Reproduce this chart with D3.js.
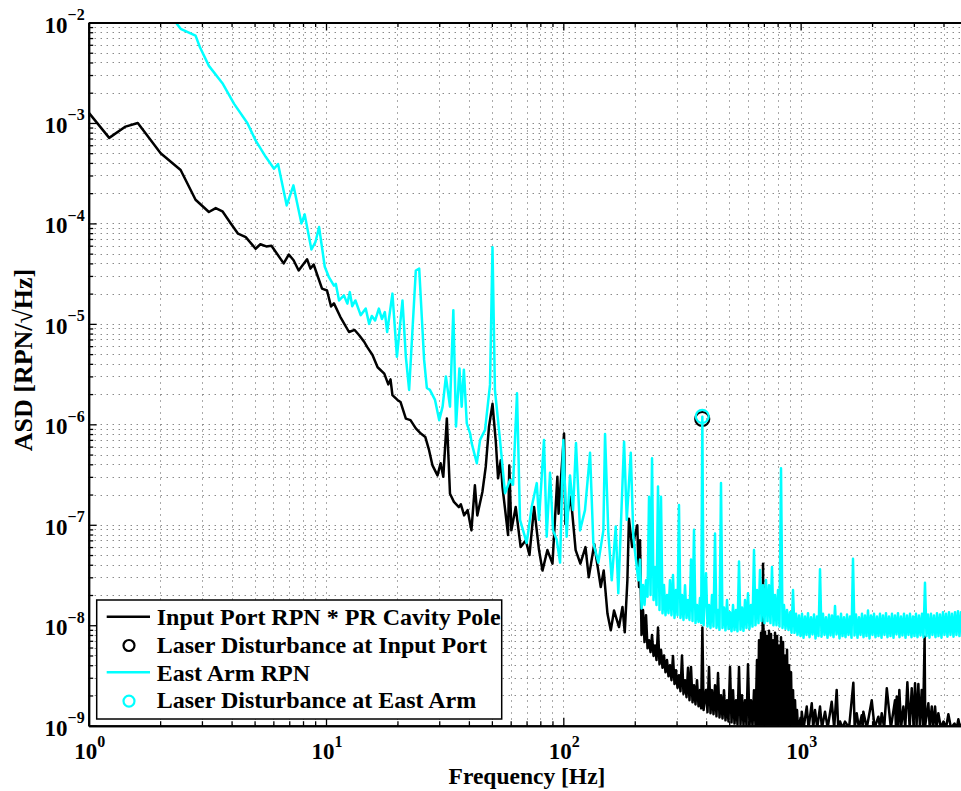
<!DOCTYPE html>
<html>
<head>
<meta charset="utf-8">
<script src="https://cdn.jsdelivr.net/npm/d3@7"></script>
<style>
  body { margin: 0; background: #fff; }
  svg { display: block; }
</style>
</head>
<body>
<svg id="svg"></svg>
<script>
// DATA: [frequency Hz, ASD RPN/rtHz]
const inputPortRPN = [
  [1.0, 1.27e-3], [1.22, 7.1e-4], [1.43, 9.2e-4], [1.61, 1.0e-3], [2.01, 5.0e-4], [2.44, 3.4e-4],
  [2.82, 1.72e-4], [3.21, 1.30e-4], [3.43, 1.42e-4], [3.66, 1.32e-4], [3.97, 1.0e-4], [4.26, 7.9e-5],
  [4.59, 7.3e-5], [5.05, 5.6e-5], [5.29, 6.2e-5], [5.6, 5.9e-5], [5.89, 6.0e-5], [6.63, 4.0e-5],
  [6.97, 4.9e-5], [7.3, 4.3e-5], [7.67, 3.4e-5], [8.32, 4.4e-5], [8.6, 3.55e-5], [8.87, 3.9e-5],
  [9.62, 2.24e-5], [10.1, 2.15e-5], [10.5, 1.49e-5], [10.8, 1.6e-5], [11.5, 1.17e-5], [12.5, 8.3e-6],
  [13.2, 8.7e-6], [13.8, 7.7e-6], [14.5, 6.6e-6], [14.9, 5.9e-6], [15.7, 4.9e-6], [16.5, 3.7e-6],
  [17.6, 3.2e-6], [18.3, 2.5e-6], [18.7, 2.8e-6], [19.05, 1.95e-6], [20.0, 1.75e-6], [20.6, 1.67e-6],
  [21.7, 1.14e-6], [22.7, 1.1e-6], [23.9, 9.1e-7], [25.1, 8.1e-7], [26.2, 7.5e-7], [27.2, 5.5e-7],
  [28.1, 3.9e-7], [29.5, 3.1e-7], [30.4, 4.1e-7], [31.2, 3.0e-7], [32.3, 1.14e-6], [33.3, 2.04e-7],
  [34.6, 1.69e-7], [36.3, 1.5e-7], [37.0, 1.6e-7], [38.2, 1.24e-7], [39.5, 1.4e-7], [41.0, 8.8e-8],
  [42.4, 2.47e-7], [43.4, 1.24e-7], [45.6, 2.12e-7], [47.1, 3.77e-7], [48.6, 9.4e-7], [50.3, 1.6e-6],
  [51.9, 6.9e-7], [53.1, 2.9e-7], [54.5, 4.4e-7], [55.4, 2.4e-7], [58.5, 7.9e-8], [59.2, 3.9e-7],
  [60.4, 8.8e-8], [63.0, 1.5e-7], [66.1, 6.0e-8], [69.5, 7.0e-8], [72.0, 5.0e-8], [75.3, 1.5e-7],
  [79.0, 5.6e-8], [81.7, 3.5e-8], [85.7, 5.6e-8], [90.0, 4.1e-8], [94.4, 3.0e-7], [95.5, 1.29e-7],
  [100.7, 8.1e-7], [102, 1.02e-7], [107.5, 1.9e-7], [112.7, 5.6e-8], [118, 4.1e-8], [124, 6.0e-8],
  [128, 3.0e-8], [135, 6.4e-8], [143.8, 2.4e-8], [148, 3.5e-8], [153.5, 1.3e-8], [158.5, 8.9e-9],
  [163.6, 1.4e-8], [171.7, 9.6e-9], [177.5, 1.52e-8], [181.5, 8.5e-9], [186.2, 2.8e-8], [189, 1.15e-7],
  [195, 6.0e-8], [205, 9.9e-8], [208.5, 2.4e-8], [210.5, 7.0e-8],
  [213.6, 8.0e-9], [216.7, 1.42e-8], [219.9, 6.8e-9], [223.1, 1.26e-8], [226.4, 5.9e-9], [229.7, 7.1e-9],
  [233.1, 5.4e-9], [236.5, 8.0e-9], [240.0, 4.95e-9], [243.4, 6.3e-9], [247.0, 4.5e-9], [250.6, 9.5e-9],
  [254.3, 4.1e-9], [258.0, 5.7e-9], [261.8, 3.77e-9], [265.6, 5.0e-9], [269.5, 3.4e-9], [273.5, 4.5e-9],
  [277.5, 3.1e-9], [281.5, 4.0e-9], [285.6, 2.84e-9], [289.8, 4.95e-9], [294.1, 2.6e-9], [298.4, 3.57e-9],
  [302.8, 2.38e-9], [307.2, 3.18e-9], [311.7, 2.2e-9], [316.3, 5.0e-9], [320.9, 2.07e-9], [325.7, 2.84e-9],
  [330.5, 1.92e-9], [335.3, 3.77e-9], [340.2, 1.79e-9], [345.2, 3.85e-9], [350.3, 1.71e-9], [355.4, 2.53e-9],
  [360.6, 1.63e-9], [365.9, 2.84e-9], [371.3, 1.56e-9], [376.7, 2.26e-9], [381.0, 1.49e-9], [385.5, 9.5e-9],
  [390.0, 1.43e-9], [399.3, 2.26e-9], [405.1, 1.36e-9], [411.1, 3.85e-9], [417.1, 1.33e-9], [423.2, 2.26e-9],
  [429.4, 1.3e-9], [435.7, 2.53e-9], [442.1, 1.24e-9], [448.6, 3.35e-9], [455.1, 1.21e-9], [461.8, 2.01e-9],
  [468.6, 1.18e-9], [475.4, 2.26e-9], [482.4, 1.13e-9], [489.5, 1.79e-9], [496.7, 1.1e-9], [504.0, 3.85e-9],
  [511.4, 1.08e-9], [518.9, 2.26e-9], [526.5, 1.05e-9], [534.2, 1.79e-9], [542.0, 1.03e-9], [550.0, 3.85e-9],
  [558.0, 1.03e-9], [566.2, 2.01e-9], [574.5, 1.01e-9], [582.9, 1.79e-9], [591.4, 1.0e-9], [600.1, 4.1e-9],
  [608.9, 9.9e-10], [617.8, 1.79e-9], [626.9, 9.9e-10], [636.1, 2.26e-9], [645.4, 1.0e-9], [654.8, 4.5e-9],
  [661, 1.0e-9],
  [667.8, 7.1e-9], [674.3, 9e-10], [680.9, 8.4e-9], [687.6, 9e-10], [694.3, 4.1e-8], [701.1, 9e-10],
  [707.9, 8.6e-9], [714.8, 9e-10], [721.8, 7.8e-9], [728.8, 9e-10], [735.9, 8.8e-9], [743.1, 9e-10],
  [750.3, 8.2e-9], [757.6, 9e-10], [765.0, 7.1e-9], [772.5, 9e-10], [780.0, 8.4e-9], [787.6, 9e-10],
  [795.3, 7.8e-9], [803.1, 9e-10], [810.9, 6.3e-9], [818.8, 9e-10], [826.8, 7.6e-9], [834.9, 9e-10],
  [843.0, 6.8e-9], [851.2, 9e-10], [859.5, 5.0e-9], [867.9, 9e-10], [876.4, 5.7e-9], [885.0, 9e-10],
  [893.6, 4.0e-9], [902.3, 9e-10], [911.1, 3.4e-9], [920.0, 9e-10], [928.9, 2.26e-9], [938.0, 9e-10],
  [947.1, 1.79e-9], [956.4, 9e-10], [965.7, 1.43e-9], [975.1, 9e-10],
  [1000, 1.2e-9], [1005, 9.5e-10], [1011, 1.38e-9], [1030, 9.5e-10], [1061, 1.55e-9], [1080, 9.5e-10],
  [1114, 1.67e-9], [1130, 9.5e-10], [1150, 1.43e-9], [1175, 9.5e-10], [1207, 1.55e-9], [1230, 9.5e-10],
  [1267, 1.38e-9], [1300, 9.5e-10], [1352, 1.73e-9], [1385, 9.5e-10], [1419, 2.27e-9], [1440, 9.5e-10],
  [1466, 1.1e-9], [1500, 9.5e-10], [1539, 1.1e-9], [1600, 9.5e-10], [1668, 2.68e-9], [1690, 9.5e-10],
  [1723, 1.33e-9], [1760, 9.5e-10], [1809, 1.27e-9], [1825, 9.5e-10], [1838, 1.38e-9], [1900, 9.5e-10],
  [1994, 1.79e-9], [2050, 9.5e-10], [2126, 1.23e-9], [2160, 9.5e-10], [2197, 1.33e-9], [2250, 9.5e-10],
  [2307, 2.36e-9], [2400, 9.5e-10], [2499, 1.79e-9], [2520, 1.0e-9], [2541, 1.95e-9], [2575, 1.0e-9],
  [2606, 2.27e-9], [2650, 9.5e-10], [2710, 1.55e-9], [2760, 9.5e-10], [2817, 2.7e-9], [2880, 9.5e-10],
  [2939, 2.36e-9], [2990, 1.0e-9], [3035, 2.64e-9], [3080, 1.0e-9], [3134, 2.6e-9], [3180, 1.0e-9],
  [3238, 2.27e-9], [3280, 1.0e-9], [3330, 7.7e-9], [3350, 1.0e-9], [3453, 1.67e-9], [3500, 9.5e-10],
  [3569, 1.55e-9], [3620, 9.5e-10], [3686, 1.55e-9], [3740, 9.5e-10], [3805, 1.33e-9], [3900, 9.5e-10],
  [4000, 1.1e-9], [4100, 9.5e-10], [4193, 1.3e-9], [4300, 9.5e-10], [4450, 1.05e-9], [4550, 9.5e-10],
  [4620, 1.16e-9], [4700, 9.5e-10], [4834, 1.1e-9], [5000, 9.5e-10]
];

const eastArmRPN = [
  [2.25, 1.1e-2], [2.33, 1.0e-2], [2.44, 8.65e-3], [2.82, 7.4e-3], [2.94, 5.7e-3], [3.21, 3.7e-3],
  [3.66, 2.49e-3], [4.1, 1.55e-3], [4.66, 1.0e-3], [5.05, 6.7e-4], [5.57, 4.6e-4], [6.04, 3.5e-4],
  [6.28, 3.9e-4], [6.83, 1.51e-4], [7.29, 2.39e-4], [7.88, 1.0e-4], [8.13, 1.23e-4], [8.68, 5.5e-5],
  [9.02, 6.5e-5], [9.35, 9.2e-5], [9.88, 3.7e-5], [10.3, 2.9e-5], [10.8, 2.4e-5], [11.0, 2.5e-5],
  [11.35, 1.71e-5], [11.9, 1.92e-5], [12.3, 1.59e-5], [12.6, 2.07e-5], [12.9, 1.5e-5], [13.3, 1.71e-5],
  [14.0, 1.22e-5], [14.7, 1.42e-5], [15.2, 1.0e-5], [15.6, 1.2e-5], [16.1, 1.08e-5], [16.7, 1.42e-5],
  [17.2, 1.12e-5], [17.7, 1.31e-5], [18.1, 8.3e-6], [19.05, 2.0e-5], [19.9, 4.7e-6], [21.0, 1.71e-5],
  [21.7, 4.7e-6], [22.4, 2.2e-6], [23.9, 3.4e-5], [24.7, 3.55e-5], [25.9, 4.4e-6], [26.6, 2.3e-6],
  [27.4, 2.2e-6], [28.8, 1.75e-6], [30.0, 1.1e-6], [31.0, 1.5e-6], [32.0, 3.0e-6], [33.3, 1.5e-6],
  [34.4, 1.37e-5], [35.3, 9.5e-7], [36.5, 3.6e-6], [37.3, 1.5e-6], [38.1, 3.5e-6], [39.2, 1.02e-6],
  [40.5, 8.1e-7], [41.1, 6.5e-7], [43.2, 4.1e-7], [44.6, 7.0e-7], [46.8, 8.8e-7], [49.1, 2.47e-6],
  [50.3, 5.8e-5], [51.5, 2.2e-6], [54.1, 7.0e-7], [56.8, 2.06e-7], [59.6, 2.8e-7], [61.4, 2.5e-7],
  [63.8, 2.04e-6], [65.7, 1.12e-7], [70.1, 6.6e-8], [73.6, 1.51e-7], [77.3, 2.6e-7], [79.0, 1.12e-7],
  [82.9, 7.0e-7], [85.1, 7.6e-8], [87.9, 3.3e-7], [90.5, 8.8e-8], [93.8, 7.1e-8], [96.9, 4.2e-8],
  [100, 7.0e-7], [103.3, 7.6e-8], [106.7, 3.1e-7], [109.9, 1.4e-7], [113.1, 6.5e-7], [117.6, 8.8e-8],
  [123.4, 1.4e-7], [129.6, 5.2e-7], [133.8, 6.6e-8], [140.5, 4.2e-8], [147.5, 8.8e-8], [149.9, 8.0e-7],
  [154.8, 8.2e-8], [160, 2.8e-8], [166.3, 9.6e-8], [170.5, 2.08e-8], [180.3, 6.7e-7], [185.1, 1.12e-7],
  [192.4, 5.2e-7], [197.3, 7.6e-8], [207, 2.8e-8],
  [210.5, 4.5e-8], [213.6, 1.47e-8], [216.7, 2.52e-8], [219.9, 1.59e-8], [223.1, 2.8e-8], [226.4, 1.92e-8],
  [229.7, 1.9e-7], [233.1, 2.0e-8], [236.5, 4.6e-7], [240.0, 1.78e-8], [243.4, 3.8e-8], [247.0, 1.59e-8],
  [250.6, 2.4e-7], [254.3, 1.42e-8], [258.0, 1.9e-7], [261.8, 1.32e-8], [265.6, 2.52e-8], [269.5, 1.26e-8],
  [273.5, 2.0e-8], [277.5, 1.32e-8], [281.5, 2.8e-8], [285.6, 1.26e-8], [289.8, 3.16e-8], [294.1, 1.18e-8],
  [298.4, 2.24e-8], [302.8, 1.26e-8], [307.2, 1.57e-7], [311.7, 1.18e-8], [316.3, 2.0e-8], [320.9, 1.13e-8],
  [325.7, 2.5e-8], [330.5, 1.18e-8], [335.3, 1.78e-8], [340.2, 1.13e-8], [345.2, 4.5e-8], [350.3, 1.1e-8],
  [355.4, 8.9e-8], [360.6, 1.05e-8], [365.9, 1.59e-8], [371.3, 1.08e-8], [376.7, 1.87e-8], [381.0, 1.05e-8],
  [385.3, 1.19e-6], [390.0, 1.0e-8], [399.3, 3.3e-8], [405.1, 9.7e-9], [411.1, 1.59e-8], [417.1, 9.4e-9],
  [423.2, 2.0e-8], [429.4, 9.7e-9], [435.7, 8.2e-8], [442.1, 9.4e-9], [448.6, 1.42e-8], [455.1, 9.0e-9],
  [461.8, 2.6e-7], [468.6, 9.4e-9], [475.4, 1.5e-8], [482.4, 8.9e-9], [489.5, 1.78e-8], [496.7, 9.2e-9],
  [504.0, 1.35e-8], [511.4, 8.7e-9], [518.9, 1.59e-8], [526.5, 8.95e-9], [534.2, 1.42e-8], [542.0, 8.7e-9],
  [550.0, 4.3e-8], [558.0, 9.0e-9], [566.2, 1.5e-8], [574.5, 8.8e-9], [582.9, 1.78e-8], [591.4, 9.4e-9],
  [600.1, 2.08e-8], [608.9, 9.2e-9], [617.8, 1.59e-8], [626.9, 9.7e-9], [636.1, 5.6e-8], [645.4, 1.0e-8],
  [654.8, 2.24e-8], [664.4, 1.05e-8], [674.2, 3.55e-8], [684.1, 1.1e-8], [694.1, 2.5e-8], [704.3, 1.05e-8],
  [714.6, 2.82e-8], [725.1, 1.1e-8], [735.7, 2.5e-8], [746.5, 1.05e-8], [757.4, 3.8e-8], [768.5, 1.0e-8],
  [779.9, 2.0e-8], [791.3, 1.0e-8], [802.9, 2.24e-8], [814.7, 9.7e-9], [826.6, 3.66e-7], [838.8, 9.4e-9],
  [851.1, 1.59e-8], [863.5, 9.2e-9], [876.2, 1.42e-8], [889.0, 8.95e-9], [902.2, 1.35e-8], [915.4, 8.4e-9],
  [928.8, 2.24e-8], [942.4, 8.4e-9], [956.3, 1.3e-8], [970.3, 8.0e-9],
  [984.5, 1.25e-8], [999.0, 7.8e-9], [1013.5, 1.3e-8], [1028.4, 7.5e-9], [1043.5, 1.22e-8], [1058.8, 8.0e-9],
  [1074.3, 1.32e-8], [1090.0, 7.6e-9], [1106.1, 1.2e-8], [1122.2, 8.1e-9], [1138.7, 1.28e-8], [1155.4, 7.4e-9],
  [1172.3, 1.22e-8], [1189.5, 7.8e-9], [1206.9, 3.6e-8], [1224.7, 7.7e-9], [1242.5, 1.3e-8], [1260.8, 8.0e-9],
  [1279.3, 1.2e-8], [1298.0, 7.5e-9], [1317.0, 1.27e-8], [1336.4, 7.9e-9], [1355.8, 1.25e-8], [1375.7, 7.6e-9],
  [1395.9, 1.55e-8], [1416.4, 8.1e-9], [1437.1, 1.22e-8], [1458.2, 7.4e-9], [1479.7, 1.3e-8], [1501.3, 7.8e-9],
  [1523.3, 1.2e-8], [1545.7, 7.6e-9], [1568.2, 1.28e-8], [1591.2, 8.0e-9], [1614.6, 1.22e-8], [1638.3, 7.5e-9],
  [1662.2, 4.6e-8], [1686.6, 7.9e-9], [1711.4, 1.28e-8], [1736.4, 7.5e-9], [1761.9, 1.2e-8], [1787.8, 8.0e-9],
  [1813.9, 1.3e-8], [1840.5, 7.6e-9], [1867.4, 1.25e-8], [1894.9, 7.8e-9], [1922.6, 1.4e-8], [1950.8, 7.4e-9],
  [1979.5, 1.25e-8], [2008.4, 8.0e-9], [2037.8, 1.3e-8], [2067.8, 7.6e-9], [2097.9, 1.22e-8], [2128.7, 7.8e-9],
  [2159.9, 1.3e-8], [2191.7, 7.5e-9], [2223.7, 1.25e-8], [2256.3, 8.0e-9], [2289.5, 1.32e-8], [2322.9, 7.6e-9],
  [2357.0, 1.22e-8], [2391.6, 7.8e-9], [2426.5, 1.3e-8], [2462.1, 7.5e-9], [2498.2, 1.25e-8], [2535.0, 8.1e-9],
  [2572.0, 1.32e-8], [2609.7, 7.6e-9], [2648.1, 1.22e-8], [2686.8, 7.9e-9], [2726.2, 1.3e-8], [2766.3, 7.5e-9],
  [2806.6, 1.25e-8], [2847.8, 8.0e-9], [2889.5, 1.3e-8], [2932.0, 7.6e-9], [2974.8, 1.22e-8], [3018.4, 7.8e-9],
  [3062.9, 1.3e-8], [3107.6, 7.6e-9], [3153.2, 1.25e-8], [3199.5, 7.9e-9], [3246.2, 1.3e-8], [3293.8, 7.6e-9],
  [3342.0, 2.65e-8], [3391.3, 7.8e-9], [3440.8, 1.28e-8], [3491.2, 7.5e-9], [3542.6, 1.3e-8], [3594.3, 8.0e-9],
  [3647.1, 1.25e-8], [3700.7, 7.6e-9], [3754.7, 1.32e-8], [3809.8, 7.8e-9], [3865.5, 1.28e-8], [3922.5, 7.5e-9],
  [3979.7, 1.35e-8], [4038.1, 8.0e-9], [4097.5, 1.3e-8], [4157.4, 7.7e-9], [4218.4, 1.35e-8], [4280.4, 8.0e-9],
  [4342.9, 1.3e-8], [4406.6, 7.7e-9], [4471.1, 1.35e-8], [4536.8, 8.0e-9], [4603.1, 1.38e-8], [4670.6, 7.8e-9],
  [4739.4, 1.35e-8], [4808.5, 8.0e-9], [4879.1, 1.4e-8], [4950.8, 7.8e-9], [5023, 1.35e-8]
];

const inputPortDisturbance = [[385, 1.13e-6]];
const eastArmDisturbance = [[385, 1.2e-6]];

const xDecades = [1, 10, 100, 1000];
const xTickExponents = ['0', '1', '2', '3'];
const yDecades = [1e-9, 1e-8, 1e-7, 1e-6, 1e-5, 1e-4, 1e-3, 1e-2];
const yTickExponents = ['\u22129', '\u22128', '\u22127', '\u22126', '\u22125', '\u22124', '\u22123', '\u22122'];

const legendLabels = [
  'Input Port RPN * PR Cavity Pole',
  'Laser Disturbance at Input Port',
  'East Arm RPN',
  'Laser Disturbance at East Arm'
];

// LAYOUT
const width = 961;
const height = 791;
const plot = { left: 88.7, right: 966.5, top: 22.5, bottom: 725.7 };
const font = "'Liberation Serif', 'Times New Roman', serif";

const x = d3.scaleLog().domain([1, 5000]).range([plot.left, plot.right]);
const y = d3.scaleLog().domain([1e-9, 1e-2]).range([plot.bottom, plot.top]);

const svg = d3.select('#svg')
  .attr('width', width)
  .attr('height', height)
  .attr('font-family', font)
  .attr('font-weight', 'bold');

svg.append('rect').attr('width', width).attr('height', height).attr('fill', '#fff');

svg.append('defs').append('clipPath').attr('id', 'clip')
  .append('rect')
  .attr('x', plot.left).attr('y', plot.top)
  .attr('width', plot.right - plot.left).attr('height', plot.bottom - plot.top);

// all ticks (1..9 per decade)
const xAll = xDecades.flatMap(d => d3.range(1, 10).map(k => k * d)).filter(v => v <= 5000);
const yAll = yDecades.slice(0, -1).flatMap(d => d3.range(1, 10).map(k => k * d)).concat([1e-2]);
const xMinor = xAll.filter(v => !xDecades.includes(v));
const yMinor = yAll.filter(v => !yDecades.includes(v));

// GRID (dotted, major and minor)
const grid = svg.append('g')
  .attr('stroke', '#555')
  .attr('stroke-width', 1)
  .attr('stroke-dasharray', '1,5');

grid.selectAll('.gx').data(xAll.slice(1)).join('line')
  .attr('x1', d => Math.round(x(d)) + 0.5).attr('x2', d => Math.round(x(d)) + 0.5)
  .attr('y1', plot.top).attr('y2', plot.bottom);

grid.selectAll('.gy').data(yAll.slice(1, -1)).join('line')
  .attr('y1', d => Math.round(y(d)) + 0.5).attr('y2', d => Math.round(y(d)) + 0.5)
  .attr('x1', plot.left).attr('x2', plot.right);

// DATA LINES
const line = d3.line().x(d => x(d[0])).y(d => y(d[1]));
const dataG = svg.append('g').attr('clip-path', 'url(#clip)');

dataG.append('path').datum(inputPortRPN)
  .attr('d', line).attr('fill', 'none')
  .attr('stroke', '#000').attr('stroke-width', 2.5).attr('stroke-linejoin', 'round');

dataG.selectAll('.m1').data(inputPortDisturbance).join('circle')
  .attr('cx', d => x(d[0])).attr('cy', d => y(d[1])).attr('r', 7)
  .attr('fill', 'none').attr('stroke', '#000').attr('stroke-width', 2.2);

dataG.append('path').datum(eastArmRPN)
  .attr('d', line).attr('fill', 'none')
  .attr('stroke', '#00ffff').attr('stroke-width', 2.5).attr('stroke-linejoin', 'round');

dataG.selectAll('.m2').data(eastArmDisturbance).join('circle')
  .attr('cx', d => x(d[0])).attr('cy', d => y(d[1])).attr('r', 6.5)
  .attr('fill', 'none').attr('stroke', '#00ffff').attr('stroke-width', 2.2);

// AXES (ticks inside)
function styleAxis(g) {
  g.selectAll('.domain').attr('stroke', '#000').attr('stroke-width', 2);
  g.selectAll('.tick line').attr('stroke', '#000').attr('stroke-width', 1.3);
  g.selectAll('.tick text').remove();
}

svg.append('g').attr('transform', `translate(0,${plot.bottom})`)
  .call(d3.axisBottom(x).tickValues(xMinor).tickSize(-4.5).tickSizeOuter(0).tickFormat(''))
  .call(styleAxis);
svg.append('g').attr('transform', `translate(0,${plot.bottom})`)
  .call(d3.axisBottom(x).tickValues(xDecades).tickSize(-8).tickSizeOuter(0).tickFormat(''))
  .call(styleAxis);
svg.append('g').attr('transform', `translate(0,${plot.top})`)
  .call(d3.axisTop(x).tickValues(xMinor).tickSize(-4.5).tickSizeOuter(0).tickFormat(''))
  .call(styleAxis);
svg.append('g').attr('transform', `translate(0,${plot.top})`)
  .call(d3.axisTop(x).tickValues(xDecades).tickSize(-8).tickSizeOuter(0).tickFormat(''))
  .call(styleAxis);
svg.append('g').attr('transform', `translate(${plot.left},0)`)
  .call(d3.axisLeft(y).tickValues(yMinor).tickSize(-4.5).tickSizeOuter(0).tickFormat(''))
  .call(styleAxis);
svg.append('g').attr('transform', `translate(${plot.left},0)`)
  .call(d3.axisLeft(y).tickValues(yDecades).tickSize(-8).tickSizeOuter(0).tickFormat(''))
  .call(styleAxis);

// TICK LABELS (10 with superscript exponent)
const xLab = svg.append('g');
xDecades.forEach((d, i) => {
  const t = xLab.append('text')
    .attr('x', x(d) + 1).attr('y', plot.bottom + 33)
    .attr('text-anchor', 'middle');
  t.append('tspan').attr('font-size', 23).text('10');
  t.append('tspan').attr('font-size', 16).attr('dy', -12).text(xTickExponents[i]);
});

const yLab = svg.append('g');
yDecades.forEach((d, i) => {
  const t = yLab.append('text')
    .attr('x', plot.left - 4).attr('y', y(d) + 10)
    .attr('text-anchor', 'end');
  t.append('tspan').attr('font-size', 23).text('10');
  t.append('tspan').attr('font-size', 16).attr('dy', -12.5).text(yTickExponents[i]);
});

// AXIS LABELS
svg.append('text')
  .attr('x', 527).attr('y', 784)
  .attr('text-anchor', 'middle')
  .attr('font-size', 23.5)
  .text('Frequency [Hz]');

svg.append('text')
  .attr('transform', 'rotate(-90)')
  .attr('x', -360).attr('y', 32)
  .attr('text-anchor', 'middle')
  .attr('font-size', 26)
  .text('ASD [RPN/\u221AHz]');

// LEGEND
const legend = svg.append('g');
legend.append('rect')
  .attr('x', 96.7).attr('y', 600).attr('width', 405).attr('height', 119)
  .attr('fill', '#fff').attr('stroke', '#000').attr('stroke-width', 1.5);

const legendStyle = [
  { color: '#000', type: 'line' },
  { color: '#000', type: 'circle' },
  { color: '#00ffff', type: 'line' },
  { color: '#00ffff', type: 'circle' }
];
legendLabels.forEach((label, i) => {
  const cy = 616.7 + i * 27.8;
  const s = legendStyle[i];
  if (s.type === 'line') {
    legend.append('line')
      .attr('x1', 106.7).attr('x2', 150).attr('y1', cy).attr('y2', cy)
      .attr('stroke', s.color).attr('stroke-width', 2.5);
  } else {
    legend.append('circle')
      .attr('cx', 129).attr('cy', cy + 1).attr('r', 5.5)
      .attr('fill', 'none').attr('stroke', s.color).attr('stroke-width', 2.2);
  }
  legend.append('text')
    .attr('x', 156.7).attr('y', cy + 8.3)
    .attr('font-size', 24)
    .text(label);
});
</script>
</body>
</html>
